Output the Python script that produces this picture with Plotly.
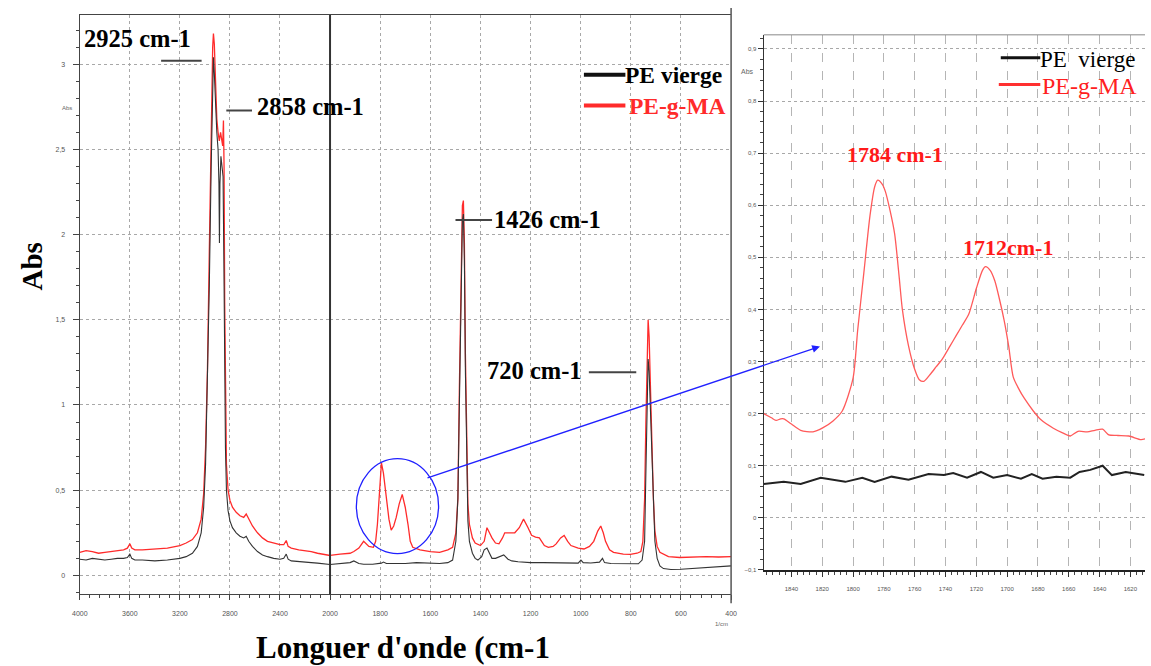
import plotly.graph_objects as go

# ---------------- data ----------------
# Main spectrum, PE-g-MA (red)
red_wn = [4000, 3950, 3900, 3850, 3800, 3750, 3700, 3650, 3620, 3600, 3585, 3560, 3500, 3400, 3300,
          3200, 3150, 3100, 3060, 3030, 3010, 2995, 2980, 2965, 2950, 2938, 2932, 2925, 2915, 2905,
          2895, 2885, 2875, 2865, 2858, 2852, 2847, 2842, 2836, 2828, 2815, 2800, 2780, 2750, 2720,
          2690, 2670, 2650, 2620, 2580, 2540, 2500, 2450, 2400, 2370, 2350, 2335, 2310, 2250, 2200,
          2150, 2100, 2050, 2000,
          1960, 1920, 1905, 1885, 1866, 1845, 1827, 1818, 1811, 1803, 1795, 1787, 1775, 1765, 1756,
          1746, 1736, 1724, 1712, 1700, 1689, 1680, 1670, 1655, 1641, 1600, 1563, 1530, 1511, 1498,
          1490, 1484, 1478, 1472, 1468, 1464, 1460, 1455, 1450, 1444, 1432, 1421, 1400, 1385, 1374,
          1364, 1354, 1340, 1326, 1312, 1303, 1285, 1263, 1245, 1228, 1210, 1196, 1180, 1165, 1145,
          1129, 1110, 1098, 1080, 1066, 1052, 1039, 1010, 987, 965, 948, 932, 920, 910, 901,
          885, 869, 830, 802, 775, 760, 752, 745, 740, 735, 731, 727, 722, 716, 710,
          704, 695, 684, 650, 605, 550, 500, 450, 400]
red_abs = [0.135, 0.145, 0.14, 0.13, 0.135, 0.14, 0.145, 0.15, 0.16, 0.185, 0.16, 0.15, 0.15, 0.155, 0.16,
           0.175, 0.19, 0.21, 0.25, 0.33, 0.48, 0.75, 1.2, 1.9, 2.75, 3.1, 3.18, 3.12, 2.9, 2.68,
           2.6, 2.55, 2.6, 2.55, 2.52, 2.67, 2.4, 1.6, 0.95, 0.65, 0.5, 0.44, 0.4, 0.37, 0.35,
           0.34, 0.36, 0.33, 0.29, 0.25, 0.22, 0.2, 0.19, 0.18, 0.18, 0.205, 0.17, 0.16, 0.15, 0.145,
           0.14, 0.13, 0.125, 0.117,
           0.125, 0.13, 0.14, 0.16, 0.2, 0.17, 0.165, 0.2, 0.3, 0.5, 0.66, 0.6, 0.45, 0.33, 0.265,
           0.29, 0.34, 0.42, 0.475, 0.4, 0.3, 0.2, 0.165, 0.155, 0.15, 0.14, 0.135, 0.15, 0.165, 0.25,
           0.45, 1.1, 1.8, 2.17, 2.2, 1.95, 1.3, 0.7, 0.42, 0.3, 0.22, 0.19, 0.175, 0.2, 0.28,
           0.25, 0.22, 0.19, 0.185, 0.22, 0.25, 0.25, 0.25, 0.28, 0.33, 0.28, 0.235, 0.225, 0.22, 0.175,
           0.165, 0.17, 0.185, 0.22, 0.235, 0.2, 0.175, 0.16, 0.155, 0.17, 0.2, 0.26, 0.29, 0.25, 0.2,
           0.15, 0.135, 0.125, 0.123, 0.13, 0.14, 0.2, 0.45, 0.9, 1.35, 1.5, 1.4, 1.1, 0.8, 0.45,
           0.26, 0.17, 0.135, 0.11, 0.105, 0.108, 0.11, 0.108, 0.11]

# Main spectrum, PE vierge (black)
blk_wn = [4000, 3950, 3900, 3850, 3800, 3750, 3700, 3650, 3620, 3600, 3585, 3560, 3500, 3400, 3300,
          3200, 3150, 3100, 3060, 3030, 3010, 2995, 2980, 2965, 2950, 2940, 2932, 2925, 2915, 2905,
          2895, 2888, 2884, 2880, 2872, 2862, 2855, 2848, 2842, 2836, 2828, 2815, 2800, 2780, 2750,
          2720, 2690, 2670, 2650, 2620, 2580, 2540, 2500, 2450, 2400, 2370, 2350, 2335, 2310, 2250,
          2200, 2150, 2100, 2050, 2000,
          1960, 1920, 1905, 1885, 1866, 1830, 1795, 1787, 1775, 1740, 1700, 1655, 1600, 1563, 1530,
          1511, 1498, 1490, 1484, 1478, 1472, 1468, 1464, 1460, 1455, 1450, 1444, 1432, 1421, 1410,
          1395, 1385, 1374, 1364, 1354, 1340, 1320, 1307, 1290, 1275, 1250, 1200, 1150, 1100, 1050,
          1010, 999, 990, 960, 925, 913, 905, 880, 820, 770, 755, 745, 740, 735, 731,
          727, 722, 716, 710, 704, 695, 684, 670, 640, 600, 550, 500, 450, 400]
blk_abs = [0.095, 0.09, 0.1, 0.095, 0.09, 0.095, 0.1, 0.1, 0.105, 0.125, 0.1, 0.09, 0.09, 0.085, 0.09,
           0.1, 0.11, 0.13, 0.17, 0.25, 0.4, 0.65, 1.1, 1.7, 2.4, 2.9, 3.04, 2.95, 2.75, 2.6,
           2.5, 2.3, 1.95, 2.3, 2.46, 2.4, 2.34, 1.8, 1.2, 0.75, 0.5, 0.38, 0.32, 0.28, 0.25,
           0.23, 0.22, 0.23, 0.2, 0.17, 0.14, 0.12, 0.11, 0.1, 0.095, 0.1, 0.125, 0.095, 0.085, 0.08,
           0.078, 0.075, 0.072, 0.068, 0.064,
           0.07, 0.075, 0.085, 0.07, 0.065, 0.065, 0.072, 0.078, 0.07, 0.068, 0.07, 0.075, 0.072, 0.07, 0.075,
           0.09, 0.2, 0.45, 1.0, 1.7, 2.08, 2.12, 1.85, 1.2, 0.6, 0.32, 0.2, 0.13, 0.1, 0.09,
           0.11, 0.15, 0.16, 0.13, 0.1, 0.1, 0.115, 0.12, 0.095, 0.085, 0.08, 0.075, 0.075, 0.075, 0.073,
           0.072, 0.09, 0.075, 0.073, 0.078, 0.1, 0.075, 0.07, 0.068, 0.068, 0.09, 0.2, 0.6, 1.1, 1.27,
           1.2, 0.95, 0.65, 0.38, 0.2, 0.1, 0.055, 0.04, 0.035, 0.036, 0.04, 0.045, 0.05, 0.056]

# Zoomed carbonyl region (inset)
ins_red_wn = [1858, 1853, 1850, 1847, 1845, 1840, 1834, 1826, 1820, 1813, 1807, 1800, 1797, 1793, 1789,
              1786, 1784, 1781, 1779, 1776, 1773, 1770, 1768, 1764, 1760, 1757, 1754, 1750, 1746, 1742,
              1737, 1733, 1729, 1725, 1720, 1716, 1714, 1711, 1708, 1705, 1702, 1699, 1696, 1692, 1689,
              1683, 1678, 1670, 1664, 1659, 1654, 1648, 1643, 1638, 1634, 1628, 1621, 1613, 1610]
ins_red_abs = [0.2, 0.192, 0.187, 0.19, 0.19, 0.18, 0.168, 0.165, 0.172, 0.186, 0.205, 0.268, 0.36, 0.47, 0.58,
               0.635, 0.648, 0.64, 0.626, 0.59, 0.545, 0.46, 0.4, 0.33, 0.285, 0.265, 0.262, 0.275, 0.29, 0.305,
               0.33, 0.35, 0.37, 0.39, 0.44, 0.475, 0.482, 0.475, 0.455, 0.42, 0.38, 0.33, 0.27, 0.245, 0.23,
               0.205, 0.188, 0.172, 0.163, 0.157, 0.166, 0.165, 0.168, 0.17, 0.159, 0.158, 0.157, 0.15, 0.152]
ins_blk_wn = [1858, 1845, 1834, 1821, 1805, 1794, 1786, 1775, 1764, 1751, 1741, 1735, 1726, 1717, 1709,
              1700, 1691, 1684, 1677, 1668, 1659, 1653, 1646, 1638, 1632, 1623, 1611]
ins_blk_abs = [0.065, 0.069, 0.065, 0.077, 0.069, 0.077, 0.069, 0.079, 0.073, 0.084, 0.082, 0.086, 0.077, 0.088, 0.077,
               0.082, 0.075, 0.084, 0.075, 0.079, 0.077, 0.088, 0.092, 0.1, 0.082, 0.088, 0.082]

main_left_ticks = [4000, 3600, 3200, 2800, 2400]
main_right_ticks = [2000, 1800, 1600, 1400, 1200, 1000, 800, 600, 400]
inset_ticks = [1840, 1820, 1800, 1780, 1760, 1740, 1720, 1700, 1680, 1660, 1640, 1620]

# ---------------- figure ----------------
W, H = 1151, 666
def px(x):
    return x / W
def py(y):
    return 1 - y / H

RED = "#ff2b2b"
RED_INSET = "#ff5a5a"
SERIF = "Liberation Serif, Times New Roman, serif"
SANS = "Liberation Sans, Arial, sans-serif"

fig = go.Figure()
for xa in ("x", "x2"):
    fig.add_trace(go.Scatter(x=red_wn, y=red_abs, mode="lines", xaxis=xa, yaxis="y",
                             line=dict(color=RED, width=1.3), showlegend=False, name="PE-g-MA"))
    fig.add_trace(go.Scatter(x=blk_wn, y=blk_abs, mode="lines", xaxis=xa, yaxis="y",
                             line=dict(color="#333333", width=1.1), showlegend=False, name="PE vierge"))
fig.add_trace(go.Scatter(x=ins_red_wn, y=ins_red_abs, mode="lines", xaxis="x3", yaxis="y3",
                         line=dict(color=RED_INSET, width=1.3, shape="spline", smoothing=0.7),
                         showlegend=False, name="PE-g-MA"))
fig.add_trace(go.Scatter(x=ins_blk_wn, y=ins_blk_abs, mode="lines", xaxis="x3", yaxis="y3",
                         line=dict(color="#222222", width=2), showlegend=False, name="PE vierge"))

tickfont = dict(family=SANS, size=7, color="#555")
common_x = dict(showline=True, linecolor="#444", linewidth=1.3, mirror=True, ticks="outside",
                ticklen=5, tickcolor="#444", tickfont=tickfont, showgrid=True, gridcolor="#a8a8a8",
                griddash="dot", gridwidth=1, zeroline=False, ticklabelstandoff=7)

fig.update_layout(
    width=W, height=H, margin=dict(l=0, r=0, t=0, b=0),
    paper_bgcolor="white", plot_bgcolor="white", separators=", ",
    showlegend=False,
    xaxis=dict(domain=[px(72.7), px(326)], range=[4000, 2000], anchor="y",
               tickmode="array", tickvals=main_left_ticks,
               minor=dict(tick0=4000, dtick=80, ticklen=3, tickcolor="#444", ticks="outside", showgrid=False),
               **common_x),
    xaxis2=dict(domain=[px(326), px(732)], range=[2000, 400], anchor="y",
                tickmode="array", tickvals=main_right_ticks,
                minor=dict(tick0=2000, dtick=40, ticklen=3, tickcolor="#444", ticks="outside", showgrid=False),
                **common_x),
    yaxis=dict(domain=[py(597), py(15)], range=[-0.111, 3.289], anchor="x",
               tickmode="linear", tick0=0, dtick=0.5, showline=True, linecolor="#444", linewidth=1.3,
               ticks="outside", ticklen=6, tickcolor="#444", tickfont=tickfont, ticklabelstandoff=6,
               minor=dict(dtick=0.1, ticklen=3, tickcolor="#444", ticks="outside", showgrid=False),
               showgrid=True, gridcolor="#a8a8a8", griddash="dot", zeroline=False),
    xaxis3=dict(domain=[px(765), 1.0], range=[1858, 1610.5], anchor="y3",
                tickmode="array", tickvals=inset_ticks,
                showline=True, linecolor="#222", linewidth=2, mirror=False, ticks="outside",
                ticklen=5, tickcolor="#333", tickfont=dict(family=SANS, size=6, color="#555"),
                minor=dict(tick0=1840, dtick=4, ticklen=3, tickcolor="#444", ticks="outside", showgrid=False),
                showgrid=True, gridcolor="#b5b5b5", griddash="dash", zeroline=False, ticklabelstandoff=6),
    yaxis3=dict(domain=[py(573), py(35)], range=[-0.101, 0.927], anchor="x3",
                tickmode="linear", tick0=0, dtick=0.1, showline=True, linecolor="#333", linewidth=1.3,
                ticks="outside", ticklen=5, tickcolor="#333", tickfont=dict(family=SANS, size=6, color="#555"),
                minor=dict(dtick=0.02, ticklen=3, tickcolor="#444", ticks="outside", showgrid=False),
                showgrid=True, gridcolor="#a8a8a8", griddash="dot", zeroline=False),
)

shapes = []
# 2000 cm-1 scale-change divider and main right border
shapes.append(dict(type="line", xref="x2 domain", yref="y domain", x0=0, x1=0, y0=0, y1=1,
                   line=dict(color="#333", width=2)))
shapes.append(dict(type="line", xref="x2 domain", yref="paper", x0=1, x1=1, y0=py(606), y1=py(8),
                   line=dict(color="#555", width=1.5)))
# inset top border
shapes.append(dict(type="line", xref="x3 domain", yref="y3 domain", x0=0, x1=1, y0=1, y1=1,
                   line=dict(color="#888", width=1)))

def seg(x0, x1, y, color, width):
    shapes.append(dict(type="line", xref="paper", yref="paper", x0=px(x0), x1=px(x1),
                       y0=py(y), y1=py(y), line=dict(color=color, width=width)))

# leader lines for peak labels
seg(155, 196, 61, "#444", 2)
seg(221, 247, 111, "#444", 2)
seg(453, 490, 221, "#444", 2)
seg(588, 636, 374, "#444", 2)
# legend keys
seg(583, 625, 75, "#111", 4)
seg(583, 625, 106, RED, 4)
seg(1005, 1045, 58, "#111", 3)
seg(1003, 1045, 85, "#ff3030", 3)

# zoom circle around the carbonyl bands
shapes.append(dict(type="circle", xref="x2", yref="y", x0=1895, x1=1567, y0=0.128, y1=0.685,
                   line=dict(color="#2020ff", width=1.3)))
fig.update_layout(shapes=shapes)

ann = []
def text(x, y, s, size, color="black", bold=True, anchor="left", angle=0, family=SERIF):
    ann.append(dict(xref="paper", yref="paper", x=px(x), y=py(y), text=("<b>%s</b>" % s) if bold else s,
                    showarrow=False, xanchor=anchor, yanchor="middle", textangle=angle, borderpad=0,
                    font=dict(family=family, size=size, color=color)))

text(76, 39, "2925 cm-1", 24.5)
text(251, 107, "2858 cm-1", 24.5)
text(491, 220, "1426 cm-1", 24.5)
text(484, 372, "720 cm-1", 24.5)
text(624, 75, "PE vierge", 23.5)
text(628, 106, "PE-g-MA", 23.5, RED)
text(848, 155, "1784 cm-1", 22, "#ff1a1a")
text(966, 249, "1712cm-1", 22, "#ff1a1a")
text(1044, 60, "PE&nbsp;&nbsp;vierge", 23, "black", bold=False)
text(1046, 86, "PE-g-MA", 24, "#ff2020", bold=False)
text(24, 268, "Abs", 29, anchor="center", angle=-90)
text(400, 650, "Longuer d'onde (cm-1", 31, anchor="center")
text(60, 108, "Abs", 6, "#666", bold=False, anchor="center", family=SANS)
text(749, 72, "Abs", 7, "#666", bold=False, anchor="center", family=SANS)
text(722, 627, "1/cm", 6, "#666", bold=False, anchor="center", family=SANS)

# blue arrow from the circle to the inset
ann.append(dict(xref="paper", yref="paper", x=px(822), y=py(348), ax=-394, ay=132, text="",
                showarrow=True, arrowhead=2, arrowsize=1.2, arrowwidth=1.3, arrowcolor="#2020ff"))
fig.update_layout(annotations=ann)

fig.write_html("out.html")
